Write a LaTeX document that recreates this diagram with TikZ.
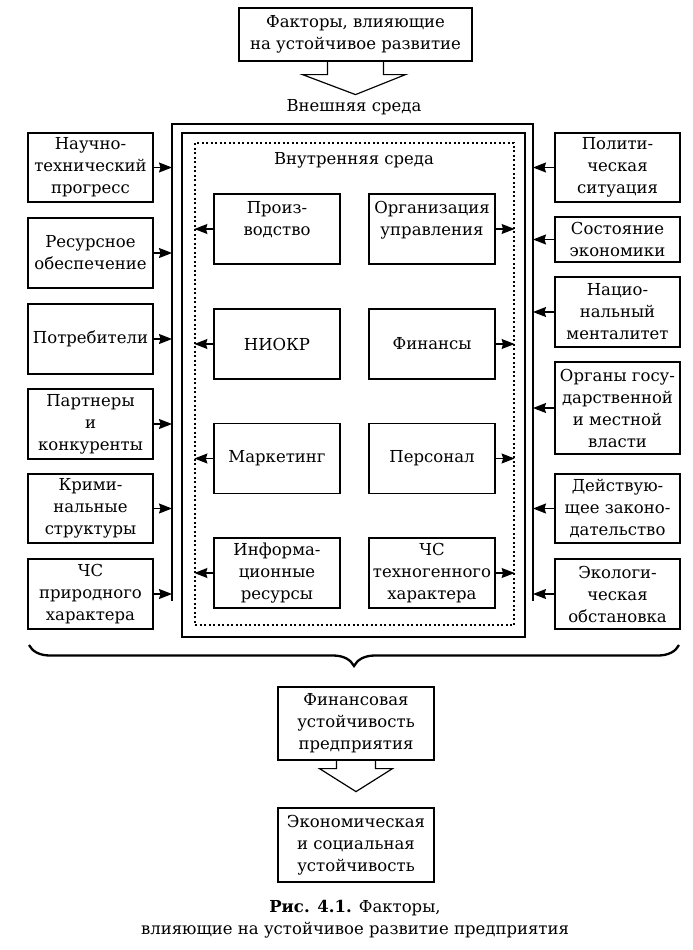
\documentclass[tikz,border=0pt]{standalone}
\usepackage{fontspec}
\setmainfont{DejaVu Serif}
\usetikzlibrary{arrows.meta,decorations.pathreplacing}

\begin{document}
\begin{tikzpicture}[x=1pt,y=-1pt]
\tikzstyle{every node}+=[inner sep=0pt, align=center, font=\fontsize{16.5}{22}\selectfont]
\tikzstyle{box}=[draw, line width=1.2pt, minimum width=125pt, minimum height=70pt]
\tikzstyle{inbox}=[box, minimum width=126pt]
\tikzstyle{arr}=[line width=1.2pt, -{Stealth[length=13pt,width=10pt,inset=1.5pt]}]
\tikzstyle{blockarr}=[line width=1.2pt, line join=miter]
\useasboundingbox (0,0) rectangle (693,950);
\node [box, minimum width=233pt, minimum height=53pt] (factors) at (355.5,34.5) {Факторы, влияющие\\на устойчивое развитие};
\draw [blockarr] ([xshift=-28pt]factors.south) -- ++(0,13) -- ++(-25,0) -- ++(53,20) -- ++(50,-20) -- ++(-22,0) -- ++(0,-13);
\node (extlbl) at (354,107) {Внешняя среда};
\coordinate (envL) at (172,601);
\coordinate (envR) at (533,601);
\draw [line width=1.2pt] (envL) |- (353,124) -| (envR);
\node [draw, line width=2.3pt, minimum width=343pt, minimum height=504pt] (frame) at (353.5,385) {};
\node [draw, line width=1.2pt, dash pattern=on 2pt off 2.5pt, minimum width=319pt, minimum height=482pt] (inner) at (354.5,384) {};
\node (intlbl) at (354,160) {Внутренняя среда};
\node [inbox] (prod) at (277,229) {Произ-\\водство\\~};
\node [inbox] (org) at (432,229) {Организация\\управления\\~};
\node [inbox] (rnd) at (277,344) {НИОКР};
\node [inbox] (fin) at (432,344) {Финансы};
\node [inbox] (mark) at (277,458.5) {Маркетинг};
\node [inbox] (staff) at (432,458.5) {Персонал};
\node [inbox] (info) at (277,573) {Информа-\\ционные\\ресурсы};
\node [inbox] (tech) at (432,573) {ЧС\\техногенного\\характера};
\draw [arr] (prod.west) -- (prod.west -| inner.west);
\draw [arr] (rnd.west) -- (rnd.west -| inner.west);
\draw [arr] (mark.west) -- (mark.west -| inner.west);
\draw [arr] (info.west) -- (info.west -| inner.west);
\draw [arr] (org.east) -- (org.east -| inner.east);
\draw [arr] (fin.east) -- (fin.east -| inner.east);
\draw [arr] (staff.east) -- (staff.east -| inner.east);
\draw [arr] (tech.east) -- (tech.east -| inner.east);
\node [box, minimum height=69pt] (sci) at (90.5,167.5) {Научно-\\технический\\прогресс};
\node [box] (res) at (90.5,253) {Ресурсное\\обеспечение};
\node [box] (cons) at (90.5,339) {Потребители};
\node [box] (part) at (90.5,424) {Партнеры\\и\\конкуренты};
\node [box, minimum height=69pt] (crim) at (90.5,508.5) {Крими-\\нальные\\структуры};
\node [box] (nat) at (90.5,594) {ЧС\\природного\\характера};
\draw [arr] (sci.east) -- (sci.east -| envL);
\draw [arr] (res.east) -- (res.east -| envL);
\draw [arr] (cons.east) -- (cons.east -| envL);
\draw [arr] (part.east) -- (part.east -| envL);
\draw [arr] (crim.east) -- (crim.east -| envL);
\draw [arr] (nat.east) -- (nat.east -| envL);
\node [box, minimum height=69pt] (pol) at (617.5,167.5) {Полити-\\ческая\\ситуация};
\node [box, minimum height=45pt] (econ) at (617.5,239.5) {Состояние\\экономики};
\node [box] (ment) at (617.5,312) {Нацио-\\нальный\\менталитет};
\node [box, minimum height=92pt] (gov) at (617.5,408) {Органы госу-\\дарственной\\и местной\\власти};
\node [box, minimum height=69pt] (law) at (617.5,508.5) {Действую-\\щее законо-\\дательство};
\node [box] (eco) at (617.5,594) {Экологи-\\ческая\\обстановка};
\draw [arr] (pol.west) -- (pol.west -| envR);
\draw [arr] (econ.west) -- (econ.west -| envR);
\draw [arr] (ment.west) -- (ment.west -| envR);
\draw [arr] (gov.west) -- (gov.west -| envR);
\draw [arr] (law.west) -- (law.west -| envR);
\draw [arr] (eco.west) -- (eco.west -| envR);
\draw [line width=2.3pt, decorate, decoration={brace, amplitude=21pt}] (679,645) -- (29,645);
\node [box, minimum width=156pt, minimum height=73pt] (finstab) at (356,723.5) {Финансовая\\устойчивость\\предприятия};
\draw [blockarr] ([xshift=-19.5pt]finstab.south) -- ++(0,8) -- ++(-17,0) -- ++(36.5,23) -- ++(36.5,-23) -- ++(-17,0) -- ++(0,-8);
\node [box, minimum width=156pt, minimum height=74pt] (ecostab) at (356,845) {Экономическая\\и социальная\\устойчивость};
\node (caption) at (355,919) {\textbf{Рис. 4.1.} Факторы,\\влияющие на устойчивое развитие предприятия};
\end{tikzpicture}
\end{document}
